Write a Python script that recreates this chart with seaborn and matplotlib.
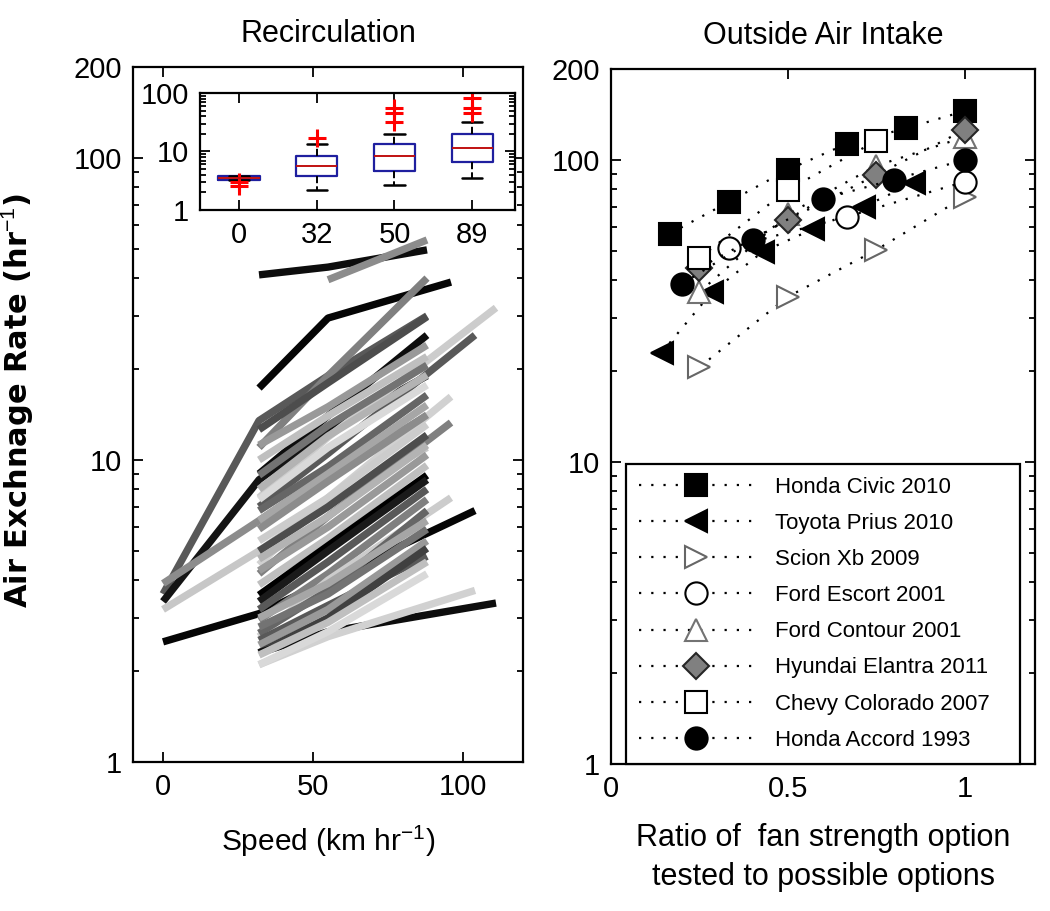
import numpy as np
import pandas as pd
import matplotlib
matplotlib.use('Agg')
import matplotlib.pyplot as plt
import seaborn as sns
from matplotlib.ticker import FixedLocator, LogLocator, NullFormatter, FixedFormatter

sns.set_style('ticks')
plt.rcParams['font.family'] = ['Liberation Sans', 'DejaVu Sans']
plt.rcParams['mathtext.fontset'] = 'custom'
plt.rcParams['mathtext.rm'] = 'Liberation Sans'
plt.rcParams['text.color'] = 'black'
plt.rcParams['axes.labelcolor'] = 'black'

# ---------------- Left panel: recirculation lines ----------------
left_line_speeds = [
    [0, 32, 55, 88], [0, 32, 55, 88], [0, 32, 55, 88], [0, 32, 55, 88], [0, 32, 55, 104],
    [32, 55, 88], [55, 88], [32, 55, 96], [32, 55, 88], [32, 55, 88],
    [32, 55, 88], [32, 55, 111], [32, 55, 104], [32, 55, 88], [32, 55, 88],
    [32, 55, 88], [32, 55, 88], [32, 55, 88], [32, 55, 96], [32, 55, 88],
    [32, 55, 88], [32, 55, 88], [32, 55, 96], [32, 55, 88], [32, 55, 88],
    [32, 55, 88], [32, 55, 88], [32, 55, 88], [32, 55, 88], [32, 55, 88],
    [32, 55, 88], [32, 55, 88], [32, 55, 96], [32, 55, 88], [32, 55, 88],
    [32, 55, 88], [32, 55, 88], [32, 55, 88], [32, 55, 88], [32, 55, 111],
    [32, 55, 104], [32, 55, 88], [32, 55, 88],
]
left_line_rates = [
    [3.6, 13.5, 19, 30], [3.4, 8.6, 12.5, 19], [3.9, 6.3, 9, 14], [3.2, 5.0, 7.2, 11], [2.5, 3.1, 4.0, 6.8],
    [41, 43.5, 49.6], [39.5, 53.5], [17.3, 29.5, 38.8], [11, 19, 40], [12.6, 18, 29.8],
    [9, 14, 25.9], [7.5, 11.9, 31.9], [7, 10.5, 25.9], [11.2, 15, 24], [10, 14, 22],
    [8.9, 13, 20.6], [8, 12, 19.1], [7.4, 11, 17.7], [4.5, 7.5, 16.2], [6.8, 9.5, 16.4],
    [6.3, 9, 15.2], [5.9, 8.5, 14.1], [4.2, 6.5, 13.3], [5.4, 7.5, 13.1], [5.0, 7, 12.1],
    [4.7, 6.5, 11.2], [4.3, 6, 10.4], [3.86, 5.5, 9.6], [3.57, 5.2, 8.9], [3.4, 5, 8.6],
    [3.2, 4.6, 8], [2.95, 4.2, 7.4], [2.6, 4, 7.5], [2.67, 3.7, 6.8], [3.0, 3.9, 6.3],
    [2.8, 3.6, 5.9], [2.53, 3.3, 4.8], [2.44, 3.2, 5.4], [2.3, 3.0, 5.1], [2.3, 2.7, 3.36],
    [2.1, 2.6, 3.7], [2.26, 2.9, 4.6], [2.1, 2.7, 4.2],
]
left_line_grays = [
    0.35, 0.08, 0.55, 0.78, 0.02,
    0.05, 0.55, 0.02, 0.5, 0.3,
    0.05, 0.8, 0.35, 0.6, 0.75,
    0.45, 0.7, 0.85, 0.82, 0.4,
    0.65, 0.55, 0.5, 0.8, 0.3,
    0.7, 0.6, 0.75, 0.0, 0.1,
    0.35, 0.5, 0.8, 0.4, 0.65,
    0.45, 0.35, 0.6, 0.25, 0.05,
    0.82, 0.75, 0.85,
]

# ---------------- Inset boxplot ----------------
box_labels = ['0', '32', '50', '89']
box_q1 = [3.3, 3.8, 4.6, 6.6]
box_med = [3.5, 5.6, 8.4, 11.5]
box_q3 = [3.8, 8.4, 13.4, 20]
box_whislo = [3.3, 2.2, 2.7, 3.5]
box_whishi = [3.8, 13.4, 20, 32]
box_fliers = [[2.6, 3.0], [17], [32, 45, 55], [45, 55, 82]]

# ---------------- Right panel: outside air intake ----------------
car_names = ['Honda Civic 2010', 'Toyota Prius 2010', 'Scion Xb 2009', 'Ford Escort 2001',
             'Ford Contour 2001', 'Hyundai Elantra 2011', 'Chevy Colorado 2007', 'Honda Accord 1993']
car_ratio = [
    [1/6, 2/6, 3/6, 4/6, 5/6, 1.0],
    [1/7, 2/7, 3/7, 4/7, 5/7, 6/7],
    [0.25, 0.5, 0.75, 1.0],
    [1/3, 2/3, 1.0],
    [0.25, 0.5, 0.75, 1.0],
    [0.25, 0.5, 0.75, 1.0],
    [0.25, 0.5, 0.75],
    [0.2, 0.4, 0.6, 0.8, 1.0],
]
car_rate = [
    [57, 72.6, 92.7, 113, 127, 145],
    [23, 36.5, 49.6, 59, 69.9, 84],
    [20.6, 35.2, 50.3, 75.4],
    [51, 64.8, 84.6],
    [36.5, 66, 95.5, 119],
    [43.9, 63.3, 89, 125.6],
    [47.4, 79.5, 115.6],
    [38.8, 54.3, 74.3, 86, 100],
]
car_markers = ['s', '<', '>', 'o', '^', 'D', 's', 'o']
car_face = ['black', 'black', 'white', 'white', 'white', '0.5', 'white', 'black']
car_edge = ['black', 'black', '0.4', 'black', '0.45', '0.15', 'black', 'black']
car_msize = [16, 16, 16, 16, 16, 13, 16, 16]

fig = plt.figure(figsize=(10.5, 9.11), dpi=100)
ax1 = fig.add_axes([0.1267, 0.1635, 0.3714, 0.763])
ax2 = fig.add_axes([0.582, 0.1614, 0.404, 0.763])

rows = []
for i, (sp, rt) in enumerate(zip(left_line_speeds, left_line_rates)):
    for s, r in zip(sp, rt):
        rows.append(('L%02d' % i, s, r))
df = pd.DataFrame(rows, columns=['line', 'speed', 'rate'])
palette = {'L%02d' % i: (g, g, g) for i, g in enumerate(left_line_grays)}
sns.lineplot(data=df, x='speed', y='rate', hue='line', palette=palette,
             hue_order=list(palette.keys()), estimator=None, sort=False,
             legend=False, linewidth=5.3, solid_capstyle='butt', ax=ax1)

def style_log_axis(ax, ylim, yticks):
    ax.set_yscale('log')
    ax.set_ylim(*ylim)
    ax.yaxis.set_major_locator(FixedLocator(yticks))
    ax.yaxis.set_major_formatter(FixedFormatter([('%g' % t) for t in yticks]))
    ax.yaxis.set_minor_locator(LogLocator(base=10, subs=np.arange(2, 10)))
    ax.yaxis.set_minor_formatter(NullFormatter())
    ax.tick_params(which='both', direction='in', top=True, right=True,
                   labelsize=21, width=1.3, colors='black', pad=8)
    ax.tick_params(which='major', length=7)
    ax.tick_params(which='minor', length=4)
    for sp in ax.spines.values():
        sp.set_visible(True)
        sp.set_linewidth(1.6)
        sp.set_color('black')

style_log_axis(ax1, (1, 200), [1, 10, 100, 200])
ax1.set_xlim(-10, 120)
ax1.set_xticks([0, 50, 100])
ax1.set_xticklabels(['0', '50', '100'])
ax1.set_xlabel('Speed (km hr$^{-1}$)', fontsize=21.5, labelpad=16, color='black')
ax1.set_ylabel('Air Exchnage Rate (hr$^{-1}$)', fontsize=22, fontweight='bold',
               family=['DejaVu Sans'], color='black')
ax1.yaxis.set_label_coords(-0.25, 0.52)
ax1.set_title('Recirculation', fontsize=22, pad=18, color='black')

# inset
axi = fig.add_axes([0.1905, 0.7695, 0.30, 0.1284])
stats = []
for i in range(4):
    stats.append(dict(med=box_med[i], q1=box_q1[i], q3=box_q3[i],
                      whislo=box_whislo[i], whishi=box_whishi[i],
                      fliers=box_fliers[i], label=box_labels[i]))
axi.bxp(stats, positions=[1, 2, 3, 4], widths=0.53, capwidths=0.26,
        boxprops=dict(color='#1f1f9f', linewidth=1.6),
        medianprops=dict(color='#c01010', linewidth=1.4),
        whiskerprops=dict(color='black', linewidth=1.4, linestyle='--'),
        capprops=dict(color='black', linewidth=1.8),
        flierprops=dict(marker='+', markeredgecolor='red', markersize=13, markeredgewidth=2.2))
style_log_axis(axi, (1, 100), [1, 10, 100])
axi.set_xlim(0.5, 4.55)
axi.set_xticks([1, 2, 3, 4])
axi.set_xticklabels(box_labels)
axi.tick_params(axis='x', which='minor', bottom=False, top=False)
axi.set_facecolor('white')

# right panel
for k in range(len(car_names)):
    sns.lineplot(x=car_ratio[k], y=car_rate[k], ax=ax2, color='black',
                 linestyle=(0, (1, 4.5)), linewidth=1.6,
                 marker=car_markers[k], markersize=car_msize[k],
                 markerfacecolor=car_face[k], markeredgecolor=car_edge[k],
                 markeredgewidth=1.5, label=car_names[k], legend=False)
style_log_axis(ax2, (1, 200), [1, 10, 100, 200])
ax2.set_xlim(0, 1.2)
ax2.set_xticks([0, 0.5, 1])
ax2.set_xticklabels(['0', '0.5', '1'])
ax2.set_xlabel('Ratio of  fan strength option\ntested to possible options',
               fontsize=22, labelpad=14, linespacing=1.4, color='black')
ax2.set_title('Outside Air Intake', fontsize=22, pad=18, color='black')

handles, labels = ax2.get_legend_handles_labels()
leg = ax2.legend(handles, labels, loc='lower left', bbox_to_anchor=(0.035, 0.0, 0.93, 0.43),
                 mode='expand', fontsize=16, handlelength=5.1, handletextpad=1.0,
                 labelspacing=0.68, borderpad=0.6, frameon=True, fancybox=False,
                 edgecolor='black', framealpha=1, numpoints=1, borderaxespad=0)
leg.get_frame().set_linewidth(1.6)
for t in leg.get_texts():
    t.set_color('black')

fig.savefig('out.png', dpi=100, facecolor='white')
